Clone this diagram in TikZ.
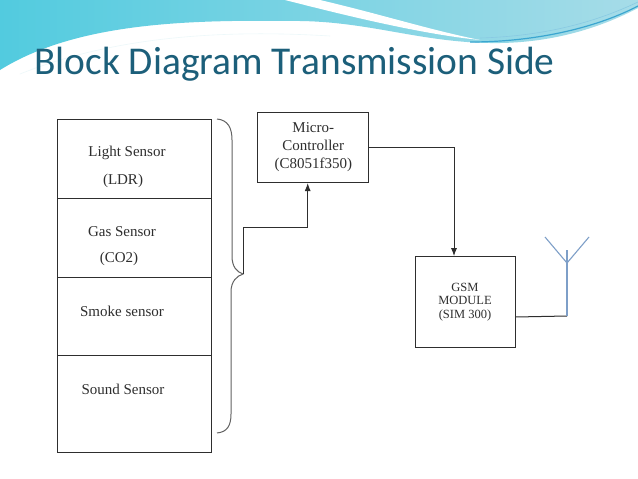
\documentclass[tikz,border=0pt]{standalone}
\usepackage{fontspec}
\setmainfont{Liberation Serif}
\newfontfamily\titlefont{Carlito}
\usetikzlibrary{arrows.meta}
\definecolor{titleblue}{HTML}{1C5F7A}
\definecolor{hdrcyan}{HTML}{52CBDF}
\definecolor{hdrblue}{HTML}{7BB7D4}
\definecolor{hdrlight}{HTML}{A6DCE8}
\definecolor{hdrline}{HTML}{3BA6D0}
\definecolor{inkgray}{HTML}{2E2E2E}
\definecolor{antblue}{HTML}{7E9FC8}
\tikzset{
  cell/.style={draw=inkgray, line width=1pt, minimum width=154pt, inner sep=0pt},
  blockbox/.style={draw=inkgray, line width=1pt, inner sep=0pt, align=center, text=inkgray},
  lbl/.style={text=inkgray, inner sep=0pt, font=\fontsize{15}{18}\selectfont},
  wire/.style={draw=inkgray, line width=1pt},
  arr/.style={wire, -{Latex[length=8pt,width=6pt]}},
  antwire/.style={draw=antblue, line width=1.1pt}
}
\begin{document}
\begin{tikzpicture}[x=1pt,y=-1pt]
\useasboundingbox (0,0) rectangle (638,479);
\fill[white] (0,0) rectangle (638,479);
% header waves
\shade[left color=hdrcyan, middle color=hdrblue, right color=hdrlight]
  (0,0) -- (638,0) -- (638,8) .. controls (600,28) and (550,44) .. (490,43)
  .. controls (420,42) and (370,22) .. (300,21)
  .. controls (200,20) and (80,20) .. (0,70) -- cycle;
\fill[white] (285,0) -- (320,0) .. controls (380,14) and (430,30) .. (480,40)
  .. controls (420,34) and (340,14) .. (285,0) -- cycle;
\draw[hdrline, line width=1.2pt] (470,42) .. controls (540,42) and (600,26) .. (638,6);
\draw[hdrline!60, line width=0.6pt] (480,38) .. controls (550,36) and (600,20) .. (638,2);
\draw[white!80!hdrlight, line width=0.6pt] (20,74) .. controls (100,42) and (200,28) .. (330,36);
% title
\node[anchor=base west, inner sep=0pt, text=titleblue, font=\titlefont\fontsize{39.4}{42}\selectfont] (title) at (34,74) {Block Diagram Transmission Side};
% sensor stack
\node[cell, minimum height=79pt] (c1) at (134,158.5) {};
\node[cell, minimum height=79pt] (c2) at (134,237.5) {};
\node[cell, minimum height=78pt] (c3) at (134,316) {};
\node[cell, minimum height=97pt] (c4) at (134,403.5) {};
\node[lbl] (t1) at (127,153) {Light Sensor};
\node[lbl] (t1b) at (123,181) {(LDR)};
\node[lbl] (t2) at (122,232) {Gas Sensor};
\node[lbl] (t2b) at (119,259) {(CO2)};
\node[lbl] (t3) at (122,311) {Smoke sensor};
\node[lbl] (t4) at (123,389) {Sound Sensor};
% brace
\coordinate (tip) at (243,274);
\draw[wire, draw=inkgray!75] (217,119) .. controls (228,120) and (232,128) .. (232,140)
  -- (232,256) .. controls (232,267) and (237,272) .. (tip)
  .. controls (237,276) and (231,281) .. (231,292)
  -- (231,414) .. controls (231,426) and (227,432) .. (217,433);
% micro controller
\node[blockbox, minimum width=111pt, minimum height=70pt, font=\fontsize{15}{18}\selectfont] (micro) at (313.3,147.5) {Micro-\\Controller\\(C8051f350)};
% GSM
\node[blockbox, minimum width=100pt, minimum height=90.6pt, font=\fontsize{12.5}{13.3}\selectfont] (gsm) at (465,302) {GSM\\MODULE\\(SIM 300)};
% connectors
\coordinate (bend) at (243,227);
\draw[arr] (tip) -- (bend) -| ([xshift=-5.6pt]micro.south);
\draw[arr] (micro.east) -| ([xshift=-11pt]gsm.north);
% antenna
\coordinate (antbase) at (567,316);
\coordinate (antv) at (567,263);
\coordinate (anttop) at (567,250);
\coordinate (antl) at (545,237);
\coordinate (antr) at (589,237);
\draw[wire] ([yshift=-15pt]gsm.east) -- (antbase);
\draw[antwire] (antbase) -- (anttop);
\draw[antwire] (antl) -- (antv) -- (antr);
\end{tikzpicture}
\end{document}
